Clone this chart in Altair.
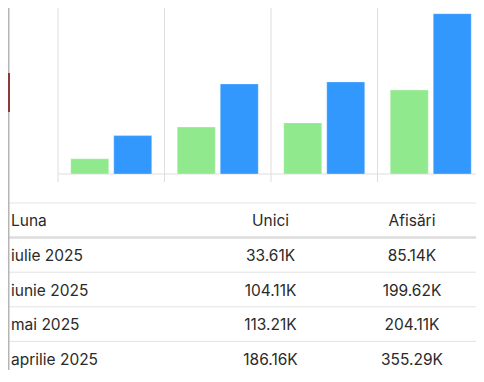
import altair as alt
import pandas as pd

# ---- data ----
months = ["iulie 2025", "iunie 2025", "mai 2025", "aprilie 2025"]
unici = [33610, 104110, 113210, 186160]
afisari = [85140, 199620, 204110, 355290]
unici_labels = ["33.61K", "104.11K", "113.21K", "186.16K"]
afisari_labels = ["85.14K", "199.62K", "204.11K", "355.29K"]
series = ["Unici", "Afisări"]
first_header = "Luna"

# ---- style ----
colors = ["#90e98c", "#3398fe"]
W, H = 468, 362
FONT = "Inter"
TXT = "#2a2a2a"
GRID = "#dedede"

bars_df = pd.DataFrame({
    "month": months * 2,
    "series": [series[0]] * len(months) + [series[1]] * len(months),
    "value": unici + afisari,
})
grid_df = pd.DataFrame({"month": months})

rows = [first_header] + months
month_col_df = pd.DataFrame({"row": rows, "label": rows})
vals_df = pd.DataFrame({
    "row": [first_header] * 2 + months * 2,
    "col": series + [series[0]] * len(months) + [series[1]] * len(months),
    "label": series + unici_labels + afisari_labels,
})
lines_df = pd.DataFrame({"row": rows})

# ---- scales ----
x_bar = alt.Scale(domain=months, range=[50, 476], paddingInner=0, paddingOuter=0)
y_bar = alt.Scale(domain=[0, 400000], range=[166, -14.5])
xo = alt.Scale(domain=series, paddingInner=0.116, paddingOuter=0.2965)
y_tab = alt.Scale(type="band", domain=rows, range=[195, 368], paddingInner=0, paddingOuter=0)
x_tab = alt.Scale(type="point", domain=series, range=[262.5, 404], padding=0)

grid = alt.Chart(grid_df).mark_rule(color=GRID, strokeWidth=1).encode(
    x=alt.X("month:N", bandPosition=0, scale=x_bar, axis=None),
    y=alt.value(0), y2=alt.value(174),
)
baseline = alt.Chart(alt.Data(values=[{}])).mark_rule(color=GRID, strokeWidth=1).encode(
    y=alt.Y(datum=0, scale=y_bar, axis=None),
    x=alt.value(50), x2=alt.value(W),
)
bars = alt.Chart(bars_df).mark_bar(stroke="white", strokeOpacity=0.3, strokeWidth=1).encode(
    x=alt.X("month:N", scale=x_bar, axis=None, sort=months),
    xOffset=alt.XOffset("series:N", scale=xo, sort=series),
    y=alt.Y("value:Q", scale=y_bar, axis=None),
    color=alt.Color("series:N", scale=alt.Scale(domain=series, range=colors), legend=None),
)
top = alt.layer(grid, baseline, bars)

thin_lines = alt.Chart(lines_df).transform_filter(
    alt.datum.row != months[0]
).mark_rule(color="#e3e3e3", strokeWidth=1).encode(
    y=alt.Y("row:N", bandPosition=0, scale=y_tab, axis=None),
    x=alt.value(1), x2=alt.value(W),
)
thick_line = alt.Chart(lines_df).transform_filter(
    alt.datum.row == months[0]
).mark_rule(color="#dcdcdc", strokeWidth=2.5).encode(
    y=alt.Y("row:N", bandPosition=0, scale=y_tab, axis=None),
    x=alt.value(1), x2=alt.value(W),
)
month_text = alt.Chart(month_col_df).mark_text(
    align="left", baseline="middle", font=FONT, fontSize=15.5, color=TXT, dy=1
).encode(
    y=alt.Y("row:N", scale=y_tab, axis=None),
    x=alt.value(3),
    text="label:N",
)
val_text = alt.Chart(vals_df).mark_text(
    align="center", baseline="middle", font=FONT, fontSize=15.5, color=TXT, dy=1
).encode(
    y=alt.Y("row:N", scale=y_tab, axis=None),
    x=alt.X("col:N", scale=x_tab, axis=None),
    text="label:N",
)
table = alt.layer(thin_lines, thick_line, month_text, val_text)

border = alt.Chart(alt.Data(values=[{}])).mark_rule(color="#b5b5b5", strokeWidth=1.5).encode(
    x=alt.value(0.75), y=alt.value(0), y2=alt.value(H),
)
red = alt.Chart(alt.Data(values=[{}])).mark_rule(color="#8b3a3a", strokeWidth=2).encode(
    x=alt.value(1), y=alt.value(65), y2=alt.value(104),
)

chart = alt.layer(top, table, border, red).resolve_scale(
    x="independent", y="independent"
).properties(
    width=W, height=H, autosize=alt.AutoSizeParams(type="none"), padding=0
).configure_view(stroke=None)

chart.save("out.html", embed_options={"renderer": "svg", "actions": False})
